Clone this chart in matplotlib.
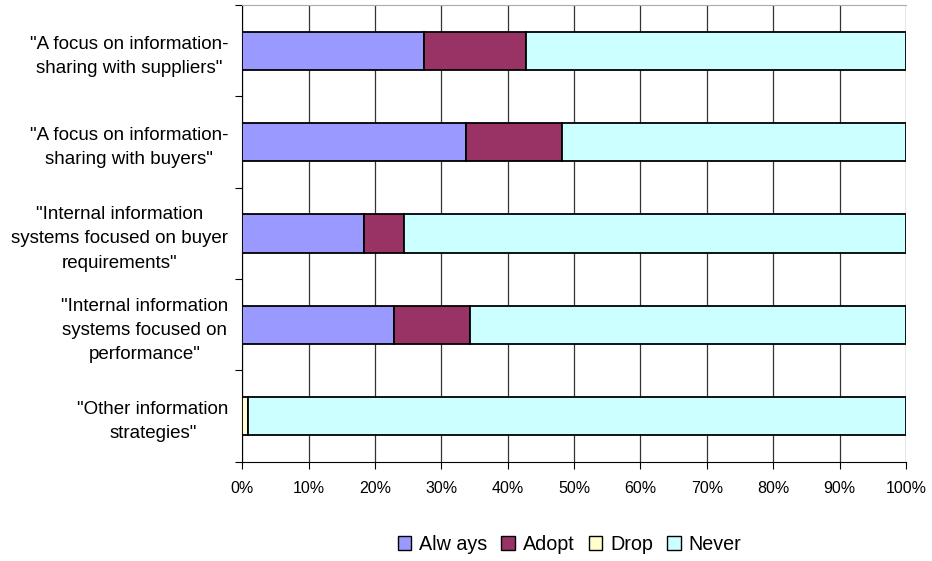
import matplotlib.pyplot as plt
import numpy as np

plt.rcParams['font.family'] = ['Liberation Sans', 'DejaVu Sans']
plt.rcParams['font.size'] = 11.5

categories = ['"A focus on information-\nsharing with suppliers"',
              '"A focus on information-\nsharing with buyers"',
              '"Internal information\nsystems focused on buyer\nrequirements"',
              '"Internal information\nsystems focused on\nperformance"',
              '"Other information\nstrategies"']
always = [27.4, 33.7, 18.4, 22.9, 0.0]
adopt = [15.4, 14.5, 6.0, 11.4, 0.0]
drop = [0.0, 0.0, 0.0, 0.0, 0.9]
never = [57.2, 51.8, 75.6, 65.7, 99.1]

series = [('Alw ays', always, '#9999ff'),
          ('Adopt', adopt, '#993366'),
          ('Drop', drop, '#ffffcc'),
          ('Never', never, '#ccffff')]

fig = plt.figure(figsize=(9.32, 5.61), dpi=100)
ax = fig.add_axes([0.26, 0.177, 0.712, 0.814])

y = np.arange(len(categories))[::-1]
left = np.zeros(len(categories))
for name, vals, col in series:
    vals = np.array(vals)
    ax.barh(y, vals, left=left, height=0.42, color=col, edgecolor='black',
            linewidth=1.3, label=name, zorder=3)
    left += vals

ax.set_xlim(0, 100)
ax.set_ylim(-0.5, len(categories) - 0.5)
ax.set_xticks(np.arange(0, 101, 10))
ax.set_xticklabels(['%d%%' % v for v in range(0, 101, 10)])
ax.grid(axis='x', color='#333333', linewidth=0.9, zorder=0)

# category labels sit between the boundary ticks
ax.set_yticks(np.arange(-0.5, len(categories), 1.0))
ax.set_yticklabels([])
ax.set_yticks(y, minor=True)
ax.set_yticklabels(categories, minor=True, multialignment='center',
                   fontsize=13.5, linespacing=1.55)
ax.tick_params(axis='y', which='minor', length=0, pad=10)
ax.tick_params(axis='y', which='major', length=5, direction='out')
ax.tick_params(axis='x', length=5, direction='out', pad=9)

for s in ['top', 'right']:
    ax.spines[s].set_color('#aaaaaa')
ax.spines['right'].set_visible(False)
ax.spines['left'].set_color('black')
ax.spines['bottom'].set_color('black')

leg = fig.legend(loc='center', bbox_to_anchor=(0.611, 0.029), ncol=4, frameon=False,
                 handlelength=0.7, handleheight=0.7, handletextpad=0.4,
                 columnspacing=0.7, fontsize=14.2)
for h in leg.legend_handles:
    h.set_linewidth(1.0)

fig.savefig('out.png', dpi=100)
